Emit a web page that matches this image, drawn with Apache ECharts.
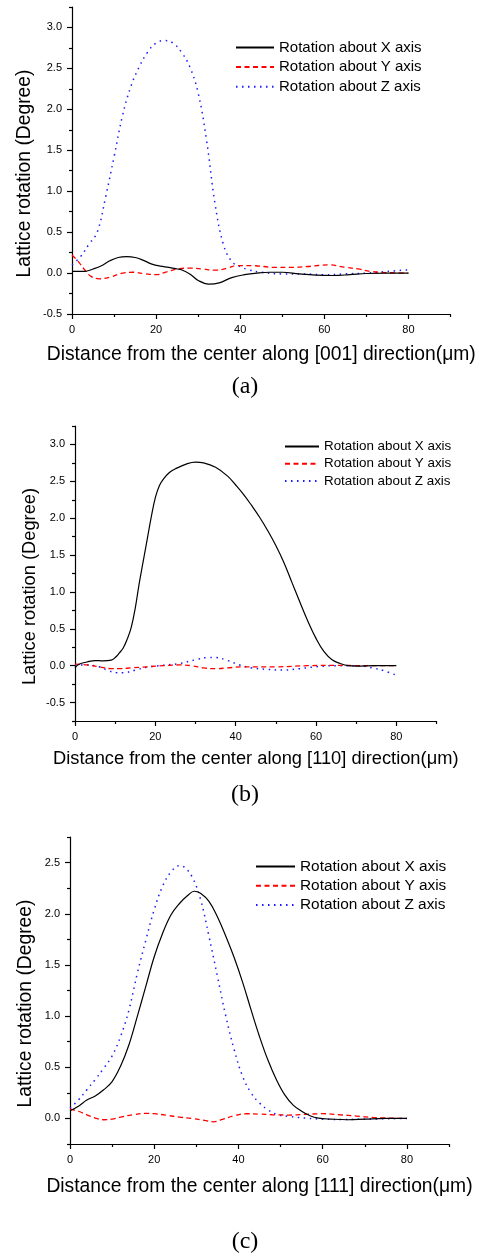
<!DOCTYPE html>
<html>
<head>
<meta charset="utf-8">
<script src="https://cdn.jsdelivr.net/npm/echarts@6/dist/echarts.min.js"></script>
<style>
  html, body { margin: 0; padding: 0; background: #fff; }
  #chart { width: 486px; height: 1256px; }
</style>
</head>
<body>
<div id="chart"></div>
<script>
// ---- Series names ----
const seriesNames = ['Rotation about X axis', 'Rotation about Y axis', 'Rotation about Z axis'];

// ---- Panel (a): along [001] ----
const aDistX = [0, 3, 5, 7, 9, 11, 13, 15, 17, 19, 21, 23, 25, 26, 28, 30, 32.5, 35, 38, 41, 44, 47, 50, 54, 58, 62, 66, 70, 75, 80];
const aRotX  = [0.02, 0.02, 0.05, 0.09, 0.15, 0.19, 0.20, 0.19, 0.155, 0.11, 0.085, 0.07, 0.05, 0.04, -0.01, -0.09, -0.135, -0.12, -0.055, -0.02, 0.0, 0.01, 0.01, -0.01, -0.025, -0.03, -0.02, -0.005, 0.0, 0.0];
const aDistY = [0, 1.5, 3, 4.5, 6.5, 9, 12, 14.5, 17.5, 20, 22.5, 25, 28, 31, 34, 37, 39, 43, 48, 52, 56, 61, 65, 68, 71, 75, 80];
const aRotY  = [0.22, 0.14, 0.04, -0.04, -0.07, -0.05, 0.0, 0.01, -0.01, -0.02, 0.015, 0.05, 0.06, 0.05, 0.035, 0.06, 0.09, 0.09, 0.07, 0.07, 0.08, 0.10, 0.07, 0.05, 0.02, 0.005, 0.0];
const aDistZ = [0, 2, 4, 6, 8, 10, 12, 14, 16, 18, 20, 22, 24, 26, 28, 30, 32, 34, 36, 38, 40, 42, 45, 50, 55, 60, 65, 70, 75, 80];
const aRotZ  = [0.10, 0.20, 0.35, 0.50, 0.93, 1.42, 1.92, 2.28, 2.52, 2.70, 2.81, 2.84, 2.81, 2.70, 2.52, 2.20, 1.62, 0.85, 0.35, 0.14, 0.08, 0.04, 0.01, -0.01, -0.01, -0.02, -0.01, 0.0, 0.02, 0.04];

// ---- Panel (b): along [110] ----
const bDistX = [0, 1, 3, 5, 7, 9, 10, 11, 12, 13, 14, 15, 16, 17, 18, 19, 20, 21, 22, 23.5, 25, 28, 30, 32, 35, 38, 40, 42, 44, 46, 48, 50, 52, 54, 56, 58, 60, 62, 64, 66, 68, 70, 75, 80];
const bRotX  = [-0.03, 0.02, 0.05, 0.07, 0.065, 0.075, 0.11, 0.17, 0.24, 0.36, 0.52, 0.78, 1.12, 1.42, 1.72, 2.02, 2.28, 2.44, 2.53, 2.62, 2.67, 2.74, 2.76, 2.75, 2.69, 2.57, 2.45, 2.32, 2.17, 2.01, 1.83, 1.63, 1.40, 1.13, 0.86, 0.60, 0.37, 0.19, 0.08, 0.03, 0.0, -0.005, 0.0, 0.0];
const bDistY = [0, 3, 6, 9, 11, 14, 18, 22, 26, 29, 32, 35, 38, 42, 50, 58, 65, 72, 80];
const bRotY  = [0.02, 0.01, -0.015, -0.04, -0.04, -0.03, -0.015, 0.0, 0.01, 0.0, -0.03, -0.04, -0.03, -0.015, -0.015, 0.0, 0.005, 0.0, 0.0];
const bDistZ = [0, 3, 6, 8, 10.5, 12, 15, 18, 22, 26, 30, 33, 35, 38, 41, 44, 48, 52, 56, 60, 65, 70, 74, 77, 80];
const bRotZ  = [0.01, 0.01, -0.015, -0.06, -0.095, -0.095, -0.06, -0.02, 0.005, 0.03, 0.08, 0.11, 0.11, 0.07, 0.01, -0.03, -0.05, -0.06, -0.04, -0.015, 0.0, 0.0, -0.03, -0.07, -0.13];

// ---- Panel (c): along [111] ----
const cDistX = [0, 2, 4, 6, 8, 10, 12, 14, 16, 18, 20, 22, 24, 26, 28, 29.5, 31, 33, 35, 37, 39, 41, 43, 45, 47, 49, 51, 53, 55, 57, 59, 62, 66, 70, 75, 80];
const cRotX  = [0.075, 0.12, 0.18, 0.22, 0.28, 0.36, 0.51, 0.72, 1.0, 1.29, 1.58, 1.81, 1.99, 2.10, 2.18, 2.22, 2.20, 2.12, 1.97, 1.78, 1.57, 1.33, 1.06, 0.80, 0.57, 0.38, 0.23, 0.13, 0.07, 0.026, 0.003, -0.007, -0.013, -0.007, 0.0, 0.0];
const cDistY = [0, 2, 4, 6, 8, 10, 12, 15, 18, 20, 23, 26, 29, 32, 34, 36, 39, 42, 45, 48, 52, 56, 60, 64, 68, 72, 76, 80];
const cRotY  = [0.09, 0.07, 0.035, 0.003, -0.013, -0.007, 0.013, 0.036, 0.049, 0.046, 0.03, 0.013, 0.0, -0.02, -0.033, -0.013, 0.026, 0.046, 0.042, 0.036, 0.033, 0.04, 0.046, 0.036, 0.023, 0.01, 0.003, 0.0];
const cDistZ = [0, 2, 4, 6, 8, 10, 12, 14, 16, 18, 20, 22, 24, 26, 27, 29, 31, 33, 35, 37, 39, 41, 43, 45, 47, 49, 52, 56, 60, 65, 70, 80];
const cRotZ  = [0.10, 0.18, 0.28, 0.38, 0.49, 0.61, 0.80, 1.06, 1.42, 1.74, 2.04, 2.27, 2.41, 2.47, 2.46, 2.36, 2.14, 1.78, 1.39, 1.00, 0.67, 0.41, 0.25, 0.15, 0.085, 0.04, 0.02, 0.003, -0.007, -0.01, -0.007, 0.0];

// ---- Axis ticks and labels ----
const xMajorTicks = [0, 20, 40, 60, 80];
const xMinorTicks = [10, 30, 50, 70, 90];
const aYMajor = [-0.5, 0, 0.5, 1.0, 1.5, 2.0, 2.5, 3.0];
const aYMinor = [-0.25, 0.25, 0.75, 1.25, 1.75, 2.25, 2.75, 3.25];
const bYMajor = [-0.5, 0, 0.5, 1.0, 1.5, 2.0, 2.5, 3.0];
const bYMinor = [-0.75, -0.25, 0.25, 0.75, 1.25, 1.75, 2.25, 2.75, 3.25];
const cYMajor = [0, 0.5, 1.0, 1.5, 2.0, 2.5];
const cYMinor = [-0.25, 0.25, 0.75, 1.25, 1.75, 2.25, 2.75];

const xTitles = [
  'Distance from the center along [001] direction(\u03bcm)',
  'Distance from the center along [110] direction(\u03bcm)',
  'Distance from the center along [111] direction(\u03bcm)'
];
const yTitle = 'Lattice rotation (Degree)';
const panelTags = ['(a)', '(b)', '(c)'];

const SANS = '"Liberation Sans", Arial, sans-serif';
const SERIF = '"Liberation Serif", "Times New Roman", serif';

function pairs(xs, ys) { return xs.map((x, i) => [x, ys[i]]); }

// layout of the three stacked panels
const panels = [
  { grid: { left: 72, top: 7, width: 378.5, height: 307 }, yMin: -0.5, yMax: 3.25, yMajor: aYMajor, yMinor: aYMinor,
    xGap: 31, yGap: 38, titleSize: 19.3,
    legend: { left: 235, top: 40, w: 38, size: 15, gap: 4.6 }, tagY: 387,
    data: [[aDistX, aRotX], [aDistY, aRotY], [aDistZ, aRotZ]] },
  { grid: { left: 75, top: 426, width: 361.5, height: 295 }, yMin: -0.75, yMax: 3.25, yMajor: bYMajor, yMinor: bYMinor,
    xGap: 29, yGap: 36.5, titleSize: 18.3,
    legend: { left: 284, top: 440, w: 34, size: 13.4, gap: 4.2 }, tagY: 795,
    data: [[bDistX, bRotX], [bDistY, bRotY], [bDistZ, bRotZ]] },
  { grid: { left: 70, top: 837, width: 379, height: 307 }, yMin: -0.25, yMax: 2.75, yMajor: cYMajor, yMinor: cYMinor,
    xGap: 33, yGap: 35, titleSize: 19.3,
    legend: { left: 255, top: 859, w: 39, size: 15.4, gap: 4.2 }, tagY: 1242,
    data: [[cDistX, cRotX], [cDistY, cRotY], [cDistZ, cRotZ]] }
];

const lineStyles = [
  { color: '#000000', width: 1.2, type: 'solid' },
  { color: '#ff0000', width: 1.3, type: [5, 3.5] },
  { color: '#1a1aff', width: 1.5, type: [1.5, 4.5] }
];

const grids = [], xAxes = [], yAxes = [], series = [], legends = [], graphics = [];

panels.forEach((p, k) => {
  grids.push(Object.assign({ containLabel: false }, p.grid));

  const axisLine = { show: true, onZero: false, lineStyle: { color: '#000', width: 1.2 } };
  const hiddenLine = { show: false, onZero: false };
  // main x axis (labels + long ticks)
  xAxes.push({
    type: 'value', gridIndex: k, position: 'bottom', min: 0, max: 90, interval: 10,
    axisLine: axisLine, splitLine: { show: false },
    axisTick: { show: true, inside: false, length: 5, customValues: xMajorTicks, lineStyle: { color: '#000', width: 1.2 } },
    axisLabel: { show: true, margin: 10, customValues: xMajorTicks, color: '#000', fontSize: 11, fontFamily: SANS },
    name: xTitles[k], nameLocation: 'middle', nameGap: p.xGap, nameMoveOverlap: false,
    nameTextStyle: { color: '#000', fontSize: p.titleSize, fontFamily: SANS }
  });
  // overlay x axis (short ticks)
  xAxes.push({
    type: 'value', gridIndex: k, position: 'bottom', min: 0, max: 90, interval: 10,
    axisLine: hiddenLine, splitLine: { show: false }, axisLabel: { show: false },
    axisTick: { show: true, inside: false, length: 3, customValues: xMinorTicks, lineStyle: { color: '#000', width: 1.2 } }
  });
  // main y axis
  yAxes.push({
    type: 'value', gridIndex: k, position: 'left', min: p.yMin, max: p.yMax, interval: 0.25,
    axisLine: axisLine, splitLine: { show: false },
    axisTick: { show: true, inside: false, length: 5, customValues: p.yMajor, lineStyle: { color: '#000', width: 1.2 } },
    axisLabel: { show: true, margin: 10, customValues: p.yMajor, color: '#000', fontSize: 11, fontFamily: SANS,
      formatter: v => Number(v).toFixed(1) },
    name: yTitle, nameLocation: 'middle', nameGap: p.yGap, nameMoveOverlap: false,
    nameTextStyle: { color: '#000', fontSize: p.titleSize, fontFamily: SANS, padding: [0, 26, 0, 0] }
  });
  // overlay y axis (short ticks)
  yAxes.push({
    type: 'value', gridIndex: k, position: 'left', min: p.yMin, max: p.yMax, interval: 0.25,
    axisLine: hiddenLine, splitLine: { show: false }, axisLabel: { show: false },
    axisTick: { show: true, inside: false, length: 3, customValues: p.yMinor, lineStyle: { color: '#000', width: 1.2 } }
  });

  p.data.forEach((d, s) => {
    series.push({
      type: 'line', name: seriesNames[s], xAxisIndex: 2 * k, yAxisIndex: 2 * k,
      data: pairs(d[0], d[1]), smooth: 0.4, symbol: 'none', showSymbol: false,
      lineStyle: lineStyles[s], itemStyle: { color: lineStyles[s].color },
      emphasis: { disabled: true }, z: 3 - s
    });
  });

  legends.push({
    orient: 'vertical', left: p.legend.left, top: p.legend.top,
    itemWidth: p.legend.w, itemHeight: 10, itemGap: p.legend.gap, padding: 0,
    selectedMode: false,
    itemStyle: { opacity: 0 },
    textStyle: { color: '#000', fontSize: p.legend.size, fontFamily: SANS },
    data: seriesNames
  });

  graphics.push({
    type: 'text', x: 245, y: p.tagY,
    style: { text: panelTags[k], fill: '#000', font: '24px ' + SERIF, textAlign: 'center', textVerticalAlign: 'middle' }
  });
});

const chart = echarts.init(document.getElementById('chart'), null, { renderer: 'canvas' });
chart.setOption({
  backgroundColor: '#fff',
  animation: false,
  grid: grids,
  xAxis: xAxes,
  yAxis: yAxes,
  legend: legends,
  series: series,
  graphic: graphics
});
</script>
</body>
</html>
